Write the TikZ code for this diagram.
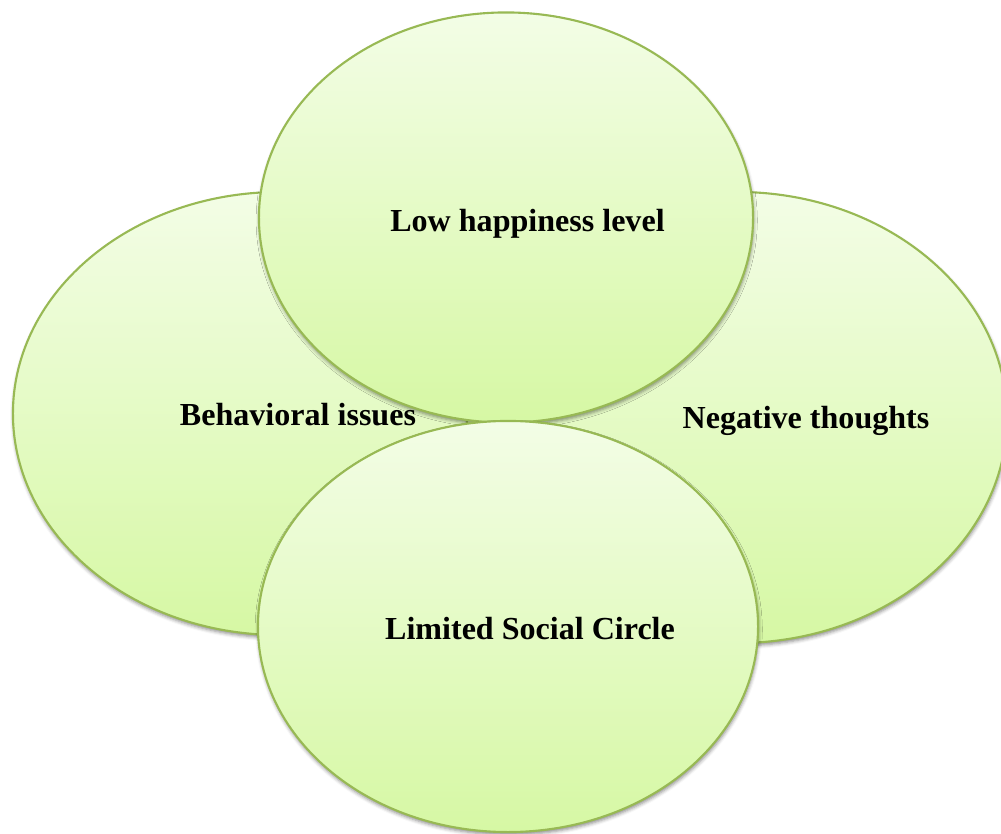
\documentclass[tikz,border=0pt]{standalone}
\usepackage{fontspec}
\setmainfont{Liberation Serif}
\usepackage{xcolor}
\usepackage{tikz}
\usetikzlibrary{
    shapes.geometric,
    shadows.blur
}
\definecolor{bubbleborder}{HTML}{98B954}
\definecolor{bubbletop}{HTML}{F3FDE6}
\definecolor{bubblebottom}{HTML}{D6F8A4}
\tikzset{
    bubble/.style={
        ellipse, draw=bubbleborder, line width=1.5pt,
        top color=bubbletop, bottom color=bubblebottom,
        inner sep=0pt,
        blur shadow={shadow xshift=0.5pt, shadow yshift=-2pt,
                     shadow blur radius=2.5pt, shadow opacity=45}
    },
    bubble label/.style={
        anchor=base, inner sep=0pt,
        font=\fontsize{22.8}{27}\selectfont\bfseries
    },
}

\begin{document}
\begin{tikzpicture}[x=0.025cm, y=-0.025cm]

    \useasboundingbox (0,0) rectangle (1001,834);

    % ── Side ellipses ──
    \node[bubble, minimum width=13.35cm, minimum height=11.075cm] (behav) at (280,413.5) {};
    \node[bubble, minimum width=13.5cm, minimum height=11.275cm] (negthought) at (737,417.5) {};

    % ── Top and bottom ellipses ──
    \node[bubble, minimum width=12.35cm, minimum height=10.25cm] (happy) at (506,217.5) {};
    \node[bubble, minimum width=12.5cm, minimum height=10.275cm] (social) at (508,626.5) {};

    % ── Labels ──
    \node[bubble label] (happytext) at (527.5,232) {Low happiness level};
    \node[bubble label] (behavtext) at (298,425) {Behavioral issues};
    \node[bubble label] (negtext) at (806,428) {Negative thoughts};
    \node[bubble label] (socialtext) at (530,639) {Limited Social Circle};

\end{tikzpicture}
\end{document}
